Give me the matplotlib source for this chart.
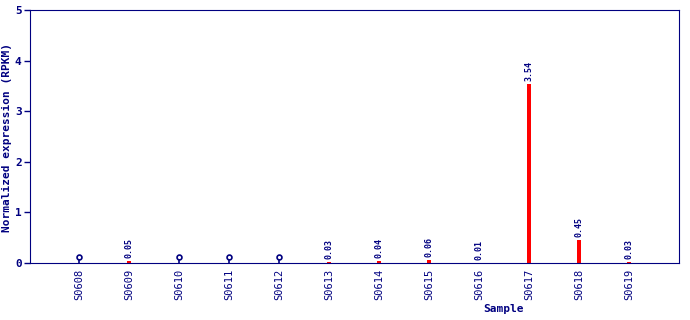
import numpy as np
import matplotlib
matplotlib.use("Agg")
import matplotlib.pyplot as plt

# data
samples = ["S0608", "S0609", "S0610", "S0611", "S0612", "S0613",
           "S0614", "S0615", "S0616", "S0617", "S0618", "S0619"]
values = [0.0, 0.05, 0.0, 0.0, 0.0, 0.03, 0.04, 0.06, 0.01, 3.54, 0.45, 0.03]

navy = "#000080"
plt.rcParams['font.family'] = ['DejaVu Sans Mono']

fig = plt.figure(figsize=(6.9, 3.2), dpi=100)
ax = fig.add_axes([0.0435, 0.178, 0.9405, 0.791])

x = np.arange(len(samples))
vals = np.array(values)

ax.bar(x, vals, width=0.09, color="red", linewidth=0, zorder=2)

# zero samples get a small marker stub
zero = vals == 0
ax.vlines(x[zero], 0, 0.08, color=navy, linewidth=1.2, zorder=3)
ax.plot(x[zero], np.full(zero.sum(), 0.11), 'o', markersize=3.5,
        markerfacecolor="white", markeredgecolor=navy, markeredgewidth=1.2, zorder=4)

for xi, v in zip(x, vals):
    if v > 0:
        ax.annotate(f"{v:.2f}", (xi, v), xytext=(0, 2), textcoords="offset points",
                    rotation=90, ha="center", va="bottom", fontsize=6,
                    fontweight="bold", color=navy)

ax.set_xlim(-0.98, 12)
ax.set_ylim(0, 5)
ax.set_xticks(x)
ax.set_xticklabels(samples, rotation=90, fontsize=7.5, color=navy)
ax.tick_params(axis="x", length=0, pad=4)
ax.set_yticks(range(6))
ax.tick_params(axis="y", length=4, width=1, color=navy, labelsize=8, labelcolor=navy, pad=2)
for lbl in ax.get_yticklabels():
    lbl.set_fontweight("bold")

for s in ax.spines.values():
    s.set_color(navy)

ax.set_xlabel("Sample", fontsize=8, fontweight="bold", color=navy)
ax.set_ylabel("Normalized expression (RPKM)", fontsize=8, fontweight="bold", color=navy)
ax.xaxis.set_label_coords(504 / 690, 1 - 309 / 320, transform=fig.transFigure)
ax.xaxis.label.set_va("center")
ax.yaxis.set_label_coords(7 / 690, 1 - 137 / 320, transform=fig.transFigure)
ax.yaxis.label.set_va("center")

fig.savefig("out.png", dpi=100)
